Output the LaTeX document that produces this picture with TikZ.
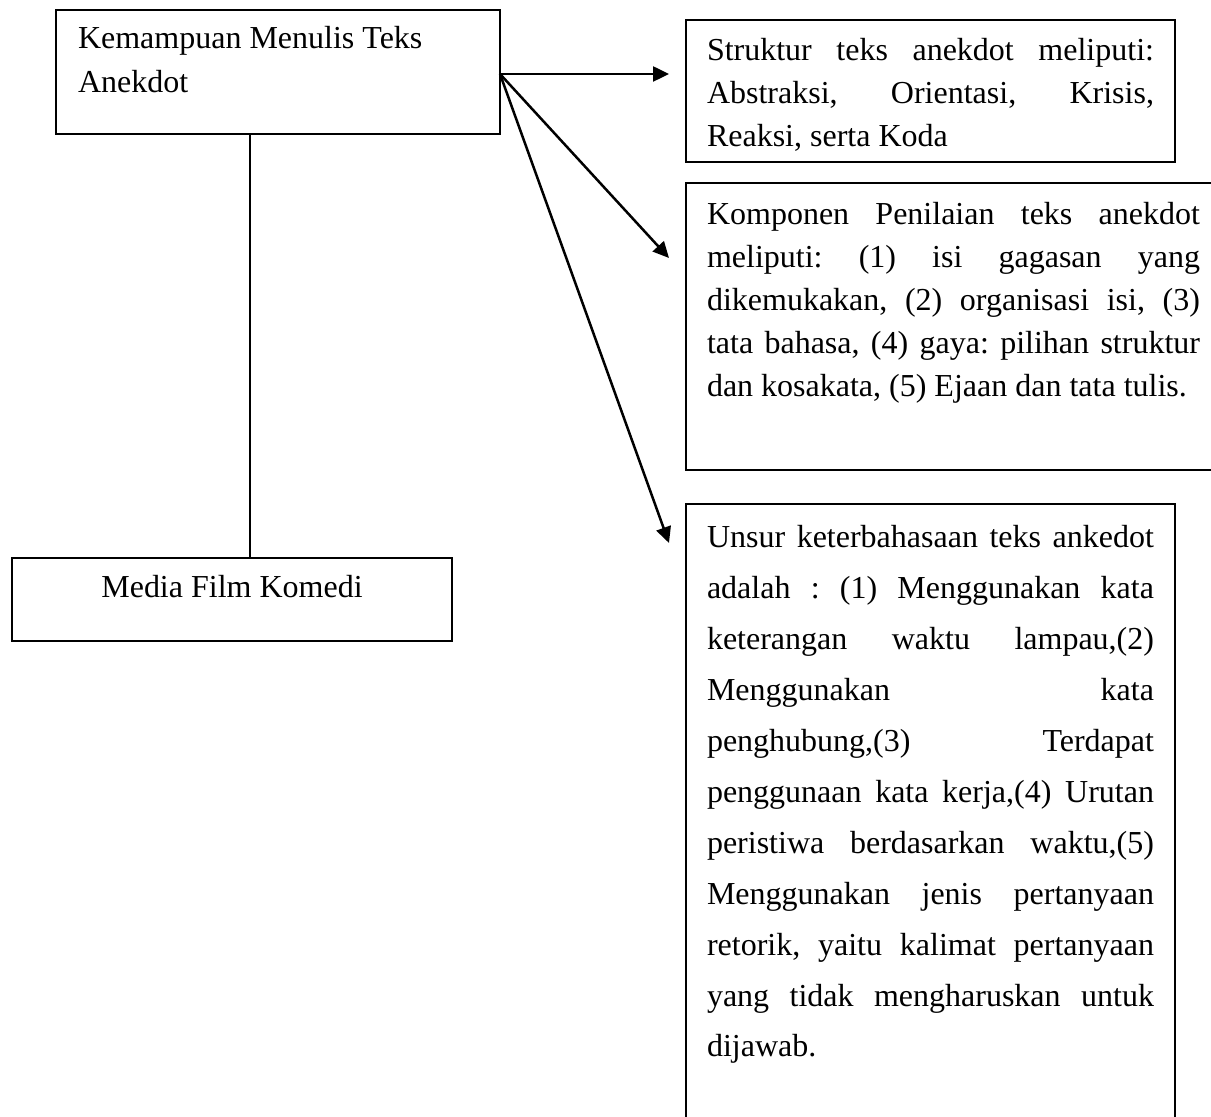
\documentclass[tikz,border=0pt]{standalone}
\usepackage{fontspec}
\setmainfont{Liberation Serif}
\usetikzlibrary{arrows.meta}
\newcommand\jline[2]{\hbox to #1{#2}}
\begin{document}
\begin{tikzpicture}[x=0.5pt,y=-0.5pt,
  frame/.style={draw, line width=1pt, inner sep=0pt, outer sep=0pt, anchor=north west},
  txt/.style={inner sep=0pt, outer sep=0pt, anchor=base west, font=\fontsize{16pt}{22pt}\selectfont\frenchspacing},
  conn/.style={line width=1pt},
  arr/.style={line width=1.25pt, -{Triangle[length=8pt,width=7.5pt]}}]
\clip (0,0) rectangle (1211,1117);
% boxes
\node[frame, minimum width=222pt, minimum height=62pt] (b1) at (56,10) {};
\node[frame, minimum width=220pt, minimum height=41.5pt] (m) at (12,558) {};
\node[frame, minimum width=244.5pt, minimum height=71pt] (b3) at (686,20) {};
\node[frame, minimum width=272pt, minimum height=143.5pt] (b4) at (686,183) {};
\node[frame, minimum width=244.5pt, minimum height=318pt] (b5) at (686,504) {};
% texts
\node[txt] (t1) at (78,49) {\vtop{\baselineskip=22pt\lineskiplimit=-50pt
  \hbox{Kemampuan Menulis Teks}\hbox{Anekdot}}};
\node[txt, anchor=base] (tm) at (232,597) {Media Film Komedi};
\node[txt] (t3) at (707,61) {\vtop{\baselineskip=21.5pt\lineskiplimit=-50pt
  \jline{223.5pt}{Struktur teks anekdot meliputi:}
  \jline{223.5pt}{Abstraksi, Orientasi, Krisis,}
  \hbox{Reaksi, serta Koda}}};
\node[txt] (t4) at (707,225) {\vtop{\baselineskip=21.5pt\lineskiplimit=-50pt
  \jline{246.5pt}{Komponen Penilaian teks anekdot}
  \jline{246.5pt}{meliputi: (1) isi gagasan yang}
  \jline{246.5pt}{dikemukakan, (2) organisasi isi, (3)}
  \jline{246.5pt}{tata bahasa, (4) gaya: pilihan struktur}
  \hbox{dan kosakata, (5) Ejaan dan tata tulis.}}};
\node[txt] (t5) at (707,548) {\vtop{\baselineskip=25.45pt\lineskiplimit=-50pt
  \jline{223.5pt}{Unsur keterbahasaan teks ankedot}
  \jline{223.5pt}{adalah : (1) Menggunakan kata}
  \jline{223.5pt}{keterangan waktu lampau,(2)}
  \jline{223.5pt}{Menggunakan kata}
  \jline{223.5pt}{penghubung,(3) Terdapat}
  \jline{223.5pt}{penggunaan kata kerja,(4) Urutan}
  \jline{223.5pt}{peristiwa berdasarkan waktu,(5)}
  \jline{223.5pt}{Menggunakan jenis pertanyaan}
  \jline{223.5pt}{retorik, yaitu kalimat pertanyaan}
  \jline{223.5pt}{yang tidak mengharuskan untuk}
  \hbox{dijawab.}}};
% connectors
\coordinate (v) at (250,0);
\coordinate (o) at (500,74);
\coordinate (e1) at (669,74);
\coordinate (e2) at (669,258);
\coordinate (e3) at (669,543);
\draw[conn] (b1.south -| v) -- (m.north -| v);
\draw[arr] (b1.east |- o) -- (e1);
\draw[arr] (b1.east |- o) -- (e2);
\draw[arr] (b1.east |- o) -- (e3);
\end{tikzpicture}
\end{document}
